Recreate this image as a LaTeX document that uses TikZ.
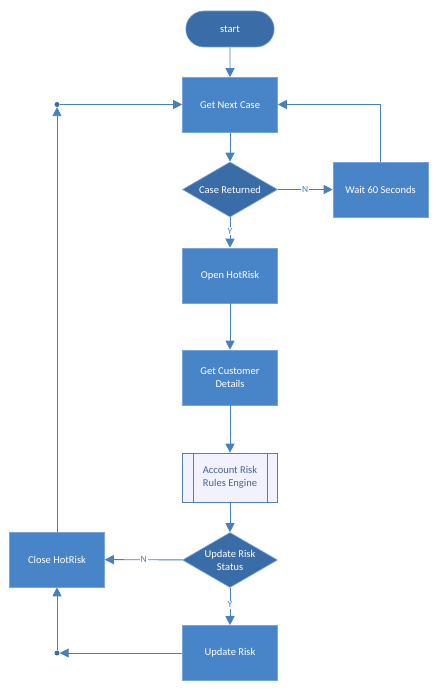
\documentclass[tikz,border=0pt]{standalone}
\usepackage{fontspec}
\setmainfont{Carlito}
\usetikzlibrary{shapes.geometric,shapes.misc,arrows.meta}
\definecolor{boxblue}{RGB}{72,132,200}
\definecolor{diablue}{RGB}{58,108,168}
\definecolor{edgeblue}{RGB}{120,165,215}
\definecolor{lineblue}{RGB}{72,128,190}
\definecolor{subtext}{RGB}{70,100,140}
\tikzset{
  x=1pt, y=-1pt,
  proc/.style={rectangle, minimum width=95pt, minimum height=55pt, fill=boxblue, draw=edgeblue, line width=0.6pt, text=white, font=\fontsize{10.5}{13}\selectfont, align=center, inner sep=1pt},
  dec/.style={diamond, aspect=1.72, minimum width=95pt, minimum height=55pt, inner sep=0pt, fill=diablue, draw=edgeblue, line width=0.6pt, text=white, font=\fontsize{10.5}{13}\selectfont, align=center},
  term/.style={rounded rectangle, minimum width=95pt, minimum height=36pt, fill=diablue, draw=edgeblue, line width=0.6pt, text=white, font=\fontsize{10.5}{13}\selectfont},
  subp/.style={rectangle, minimum width=95pt, minimum height=49pt, fill=white!95!blue, draw=lineblue!80!gray, line width=0.7pt, text=subtext, font=\fontsize{10.5}{12.5}\selectfont, align=center},
  conn/.style={draw=lineblue, line width=0.9pt, -{Triangle[length=9pt,width=9pt]}},
  plain/.style={draw=lineblue, line width=0.9pt},
  lbl/.style={fill=white, text=lineblue, font=\fontsize{9.5}{10}\selectfont, inner sep=1pt},
  dotc/.style={circle, fill=diablue, inner sep=0pt, minimum size=5pt}
}
\begin{document}
\begin{tikzpicture}
\useasboundingbox (0,0) rectangle (437,692);
\node[term] (start) at (230,29) {start};
\node[proc] (gnc) at (230,105) {Get Next Case};
\node[dec] (cr) at (230,189.5) {Case Returned};
\node[proc] (wait) at (380.5,189.5) {Wait 60 Seconds};
\node[proc] (open) at (230,275.5) {Open HotRisk};
\node[proc] (gcd) at (230,377.5) {Get Customer\\Details};
\node[subp] (arr) at (230,477.5) {Account Risk\\Rules Engine};
\draw[lineblue!80!gray, line width=0.7pt] ([xshift=11pt]arr.north west) -- ([xshift=11pt]arr.south west);
\draw[lineblue!80!gray, line width=0.7pt] ([xshift=-11pt]arr.north east) -- ([xshift=-11pt]arr.south east);
\node[dec] (urs) at (230,560) {Update Risk\\Status};
\node[proc] (close) at (57,559.5) {Close HotRisk};
\node[proc] (ur) at (230,653) {Update Risk};
\node[dotc] (d1) at (57,104.5) {};
\node[dotc] (d2) at (57,653) {};
\coordinate (wc) at (380.5,104.5);

\draw[conn] (start) -- (gnc);
\draw[conn] (gnc) -- (cr);
\draw[conn] (cr) -- node[lbl]{N} (wait);
\draw[conn] (cr) -- node[lbl, pos=0.45]{Y} (open);
\draw[conn] (open) -- (gcd);
\draw[conn] (gcd) -- (arr);
\draw[conn] (arr) -- (urs);
\draw[conn] (urs) -- node[lbl]{N} (close);
\draw[conn] (urs) -- node[lbl, pos=0.45]{Y} (ur);
\draw[plain] (wait.north) -- (wc);
\draw[conn] (wc) -- (gnc.east |- wc);
\draw[conn] (ur.west) -- (d2);
\draw[conn] (d2) -- (close.south);
\draw[conn] (close.north) -- (d1);
\draw[conn] (d1) -- (gnc.west |- d1);
\end{tikzpicture}
\end{document}
